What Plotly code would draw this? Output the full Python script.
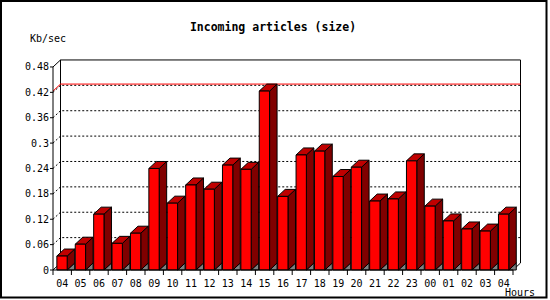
import plotly.graph_objects as go

# ---------------- data ----------------
hours = ["04", "05", "06", "07", "08", "09", "10", "11", "12", "13", "14", "15",
         "16", "17", "18", "19", "20", "21", "22", "23", "00", "01", "02", "03", "04"]
values = [0.033, 0.061, 0.132, 0.063, 0.087, 0.240, 0.158, 0.201, 0.191, 0.248,
          0.238, 0.423, 0.174, 0.272, 0.281, 0.221, 0.243, 0.163, 0.168, 0.258,
          0.151, 0.116, 0.097, 0.092, 0.132]
y_tick_vals = [0, 0.06, 0.12, 0.18, 0.24, 0.30, 0.36, 0.42, 0.48]
y_tick_text = ["0", "0.06", "0.12", "0.18", "0.24", "0.3", "0.36", "0.42", "0.48"]
title_text = "Incoming articles (size)"
y_title = "Kb/sec"
x_title = "Hours"

# ---------------- geometry / style ----------------
W, H = 550, 300
PX_X = 18.4      # px per category
PX_Y = 423.0     # px per value unit
X0_PX = 53.0     # pixel of front axis (x = -0.5)
Y0_PX = 270.0    # pixel of value 0
L, R, T, B = 50, 521, 59, 276
x_range = [-0.5 - (X0_PX - L) / PX_X, -0.5 + (R - X0_PX) / PX_X]
y_range = [-(B - Y0_PX) / PX_Y, (Y0_PX - T) / PX_Y]
DX = 7.5 / PX_X
DY = 7.0 / PX_Y
HL, HR = 0.29, 0.27
FONT = "DejaVu Sans Mono"

n = len(values)
x_lo, x_hi = -0.5, n - 0.5
y_top = y_tick_vals[-1]
ymax = max(values)


def px2paper(x, y):
    return (x - L) / (R - L), 1 - (y - T) / (B - T)


def line_trace(xs, ys, color="black", width=1, dash=None):
    return go.Scatter(x=xs, y=ys, mode="lines",
                      line=dict(color=color, width=width, dash=dash),
                      hoverinfo="skip", showlegend=False)


def poly_trace(polys, fill):
    xs, ys = [], []
    for p in polys:
        for (a, b) in p:
            xs.append(a)
            ys.append(b)
        xs.append(p[0][0])
        ys.append(p[0][1])
        xs.append(None)
        ys.append(None)
    return go.Scatter(x=xs, y=ys, mode="lines", fill="toself", fillcolor=fill,
                      line=dict(color="black", width=1), hoverinfo="skip",
                      showlegend=False)


fig = go.Figure()

# back-plane dotted grid lines + dotted connectors
gx, gy = [], []
for g in y_tick_vals[1:-1]:
    gx += [x_lo, x_lo + DX, x_hi + DX, None]
    gy += [g, g + DY, g + DY, None]
fig.add_trace(line_trace(gx, gy, dash="2px,2px"))

# back plane border + floor diagonals
fig.add_trace(line_trace([x_lo, x_lo + DX, x_lo + DX, x_hi + DX, x_hi + DX, x_hi],
                         [0, DY, y_top + DY, y_top + DY, DY, 0]))

# max line (red)
fig.add_trace(line_trace([x_lo, x_lo + DX, x_hi + DX], [ymax, ymax + DY, ymax + DY],
                         color="#ff0000"))

# 3D bars
sides, tops, fronts, shadows = [], [], [], []
for i, v in enumerate(values):
    l, r = i - HL, i + HR
    sides.append([(r, 0), (r, v), (r + DX, v + DY), (r + DX, DY)])
    tops.append([(l, v), (r, v), (r + DX, v + DY), (l + DX, v + DY)])
    fronts.append([(l, 0), (r, 0), (r, v), (l, v)])
    shadows.append([(r, 0), (r + DX, DY), (r + DX, 0)])
fig.add_trace(poly_trace(shadows, "#808080"))
fig.add_trace(poly_trace(sides, "#800000"))
fig.add_trace(poly_trace(tops, "#c00000"))
fig.add_trace(poly_trace(fronts, "#ff0000"))

# front axes
fig.add_trace(line_trace([x_lo + DX, x_lo, x_lo, x_hi], [y_top + DY, y_top, 0, 0]))

# y tick marks
tx, ty = [], []
for v in y_tick_vals:
    tx += [x_lo - 3 / PX_X, x_lo, None]
    ty += [v, v, None]
# x tick marks (category boundaries)
for k in range(n + 1):
    tx += [k - 0.5, k - 0.5, None]
    ty += [0, -5 / PX_Y, None]
fig.add_trace(line_trace(tx, ty))

# annotations
ann = []
ax_, ay_ = px2paper(47.5, 38)
ann.append(dict(text=y_title, x=ax_, y=ay_, xref="paper", yref="paper",
                showarrow=False, xanchor="center", yanchor="middle",
                font=dict(family=FONT, size=10, color="black")))
hx, hy = px2paper(519.5, 292)
ann.append(dict(text=x_title, x=hx, y=hy, xref="paper", yref="paper",
                showarrow=False, xanchor="center", yanchor="middle",
                font=dict(family=FONT, size=10, color="black")))

bx0, by0 = px2paper(1, 1)
bx1, by1 = px2paper(546.5, 297.5)

fig.update_layout(
    width=W, height=H,
    margin=dict(l=L, r=W - R, t=T, b=H - B, pad=0),
    paper_bgcolor="white", plot_bgcolor="white",
    showlegend=False,
    title=dict(text="<b>" + title_text + "</b>", x=273 / W, xref="container",
               xanchor="center", y=1 - 27 / H, yref="container", yanchor="middle",
               font=dict(family=FONT, size=11.5, color="black")),
    xaxis=dict(range=x_range, tickmode="array", tickvals=list(range(n)),
               ticktext=hours, ticks="", showgrid=False, zeroline=False,
               showline=False, fixedrange=True,
               tickfont=dict(family=FONT, size=10, color="black")),
    yaxis=dict(range=y_range, tickmode="array", tickvals=y_tick_vals,
               ticktext=y_tick_text, ticks="", showgrid=False, zeroline=False,
               showline=False, fixedrange=True,
               tickfont=dict(family=FONT, size=10, color="black")),
    annotations=ann,
    shapes=[dict(type="rect", xref="paper", yref="paper", x0=bx0, y0=by0,
                 x1=bx1, y1=by1, line=dict(color="black", width=2))],
)

fig.write_html("out.html")
